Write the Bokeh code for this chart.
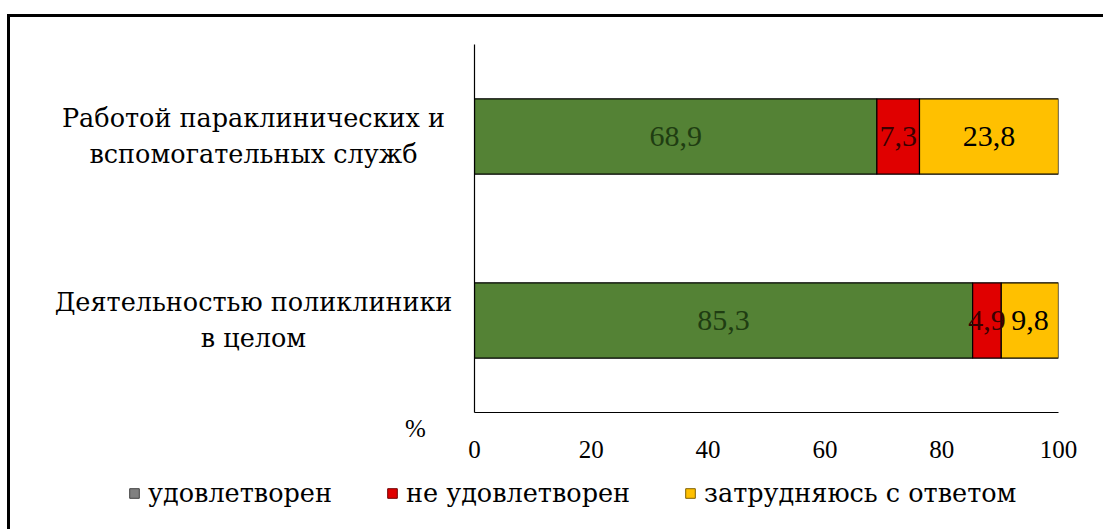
from bokeh.plotting import figure
from bokeh.layouts import row, column
from bokeh.models import (ColumnDataSource, Range1d, FactorRange, FixedTicker, LabelSet,
                          Legend, LegendItem, LinearAxis)
from bokeh.core.properties import value
from bokeh.embed import file_html
from bokeh.resources import INLINE

# ---- data ----
categories = ["Деятельностью поликлиники в целом", "Работой параклинических и вспомогательных служб"]
category_lines = [["Деятельностью поликлиники", "в целом"],
                  ["Работой параклинических и", "вспомогательных служб"]]
series_names = ["удовлетворен", "не удовлетворен", "затрудняюсь с ответом"]
satisfied = [85.3, 68.9]
not_satisfied = [4.9, 7.3]
hard_to_say = [9.8, 23.8]
x_ticks = [0, 20, 40, 60, 80, 100]
axis_unit = "%"

bar_colors = ["#548235", "#E00000", "#FFC000"]
legend_colors = ["#808080", "#E00000", "#FFC000"]
legend_edges = ["#404040", "#700000", "#806000"]
label_colors = ["#1f3d12", "#3a0000", "#000000"]
FONT = "Liberation Serif"
CYR_FONT = "DejaVu Serif"

# ---- layout constants (pixels) ----
TOTAL_W, TOTAL_H = 1093, 512
LEFT_W = 454
MAIN_W = TOTAL_W - LEFT_W
TOP_B, FRAME_H, BOT_B = 27, 368, 56
TOP_H = TOP_B + FRAME_H + BOT_B
LEG_H = TOTAL_H - TOP_H

# ---- main chart ----
p = figure(width=MAIN_W, height=TOP_H, y_range=FactorRange(*categories), x_range=Range1d(0, 100),
           output_backend="svg", toolbar_location=None, y_axis_location=None,
           min_border_left=10, min_border_right=45, min_border_top=TOP_B, min_border_bottom=BOT_B)
p.outline_line_color = None
p.xgrid.visible = False
p.ygrid.visible = False

src = ColumnDataSource(dict(cat=categories, s0=satisfied, s1=not_satisfied, s2=hard_to_say))
p.hbar_stack(["s0", "s1", "s2"], y="cat", height=0.41, source=src,
             fill_color=bar_colors, line_color="black", line_width=1.2)

lab_cat, lab_x, lab_text, lab_col = [], [], [], []
for i, c in enumerate(categories):
    vals = [satisfied[i], not_satisfied[i], hard_to_say[i]]
    start = 0.0
    for k, v in enumerate(vals):
        lab_cat.append(c)
        lab_x.append(start + v / 2)
        lab_text.append(f"{v:.1f}".replace(".", ","))
        lab_col.append(label_colors[k])
        start += v
vsrc = ColumnDataSource(dict(cat=lab_cat, x=lab_x, text=lab_text, color=lab_col))
p.add_layout(LabelSet(x="x", y="cat", text="text", source=vsrc, text_align="center",
                      text_baseline="middle", text_font=FONT, text_font_size="30px",
                      text_color="color"))

p.xaxis.ticker = FixedTicker(ticks=x_ticks)
p.xaxis.major_tick_line_color = None
p.xaxis.minor_tick_line_color = None
p.xaxis.major_label_standoff = 22
p.xaxis.major_label_text_font = FONT
p.xaxis.major_label_text_font_size = "25px"
p.xaxis.major_label_text_color = "black"
p.xaxis.axis_line_color = "black"
p.xaxis.axis_line_width = 1.2

yax = LinearAxis(ticker=FixedTicker(ticks=[]), major_tick_line_color=None,
                 minor_tick_line_color=None, axis_line_color="black", axis_line_width=1.2,
                 major_label_standoff=0)
p.add_layout(yax, "left")

# ---- left column: category labels (each line centred) and unit ----
px_per_unit = FRAME_H / len(categories)
left = figure(width=LEFT_W, height=TOP_H, output_backend="svg", toolbar_location=None,
              x_range=Range1d(0, LEFT_W),
              y_range=Range1d(-BOT_B / px_per_unit, len(categories) + TOP_B / px_per_unit),
              min_border=0, x_axis_location=None, y_axis_location=None)
left.frame_align = False
left.outline_line_color = None
left.xgrid.visible = False
left.ygrid.visible = False
line_offsets = [-19, 17]   # glyph y_offset: positive moves down
cx, cy, coff, ctext = [], [], [], []
for i, lines in enumerate(category_lines):
    for j, t in enumerate(lines):
        cx.append(243)
        cy.append(i + 0.5)
        coff.append(line_offsets[j])
        ctext.append(t)
csrc = ColumnDataSource(dict(x=cx, y=cy, off=coff, text=ctext))
left.text(x="x", y="y", y_offset="off", text="text", source=csrc,
          text_align="center", text_baseline="middle", text_font=value(CYR_FONT),
          text_font_size="25.5px", text_color="black")
usrc = ColumnDataSource(dict(x=[405], y=[-16 / px_per_unit], text=[axis_unit]))
left.text(x="x", y="y", text="text", source=usrc, text_align="center",
          text_baseline="middle", text_font=value(FONT), text_font_size="25px",
          text_color="black")

# ---- legend strip ----
lg = figure(width=TOTAL_W, height=LEG_H, output_backend="svg", toolbar_location=None,
            x_range=Range1d(0, 1), y_range=Range1d(0, 1), min_border=0,
            x_axis_location=None, y_axis_location=None)
lg.frame_align = False
lg.outline_line_color = None
lg.xgrid.visible = False
lg.ygrid.visible = False
items = []
for name, col, edge in zip(series_names, legend_colors, legend_edges):
    # proxy glyph kept outside the visible range; it only feeds the legend swatch
    r = lg.hbar(y=[-5], left=[0], right=[0], height=0.3, fill_color=col, line_color=edge)
    items.append(LegendItem(label=name, renderers=[r]))
legend = Legend(items=items, orientation="horizontal", location=(118, 21),
                glyph_width=12, glyph_height=12, label_standoff=8, spacing=54,
                padding=0, margin=0, border_line_alpha=0, background_fill_alpha=0,
                label_text_font=CYR_FONT, label_text_font_size="25.5px", label_text_color="black")
lg.add_layout(legend)

layout = column(row(left, p, spacing=0), lg, spacing=0)
layout.styles = {"margin-left": "7px", "margin-top": "14px",
                 "border-left": "3px solid black", "border-top": "3px solid black"}

open("out.html", "w").write(file_html(layout, INLINE))
